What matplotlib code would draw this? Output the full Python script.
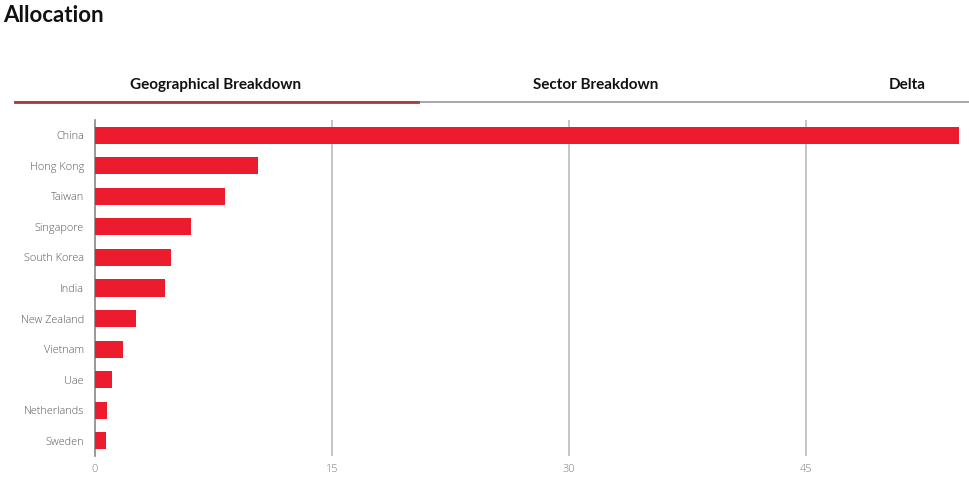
import matplotlib.pyplot as plt
from matplotlib.lines import Line2D

countries = ['China', 'Hong Kong', 'Taiwan', 'Singapore', 'South Korea', 'India',
             'New Zealand', 'Vietnam', 'Uae', 'Netherlands', 'Sweden']
weights = [54.7, 10.3, 8.2, 6.1, 4.8, 4.45, 2.6, 1.75, 1.1, 0.74, 0.7]
xticks = [0, 15, 30, 45]
tabs = ['Geographical Breakdown', 'Sector Breakdown', 'Delta']

W, H = 969, 480
fig = plt.figure(figsize=(W / 100, H / 100), dpi=100)
fig.patch.set_facecolor('white')

# axes placed in pixel terms
left, right, top, bottom = 95, 960, 120, 456
ax = fig.add_axes([left / W, 1 - bottom / H, (right - left) / W, (bottom - top) / H])

ypos = list(range(len(countries)))
ax.barh(ypos, weights, height=0.56, color='#ec1b2e', zorder=3)
ax.set_ylim(len(countries) - 0.5, -0.5)
ax.set_xlim(0, 54.75)

ax.set_yticks(ypos)
ax.set_yticklabels(countries, fontsize=7.8, color='#555555', family='Open Sans', weight='light')
ax.set_xticks(xticks)
ax.set_xticklabels([str(t) for t in xticks], fontsize=7.8, color='#777777',
                   family='Open Sans', weight='light')
ax.tick_params(axis='both', length=0)
ax.tick_params(axis='y', pad=8)
ax.tick_params(axis='x', pad=6)

for t in xticks[1:]:
    ax.axvline(t, color='#bbbbbb', lw=1.2, zorder=1)
for s in ['top', 'right', 'bottom']:
    ax.spines[s].set_visible(False)
ax.spines['left'].set_color('#888888')
ax.spines['left'].set_linewidth(1.2)

# title and tab header
fig.text(3 / W, 1 - 15 / H, 'Allocation', fontsize=16, family='Lato', weight='bold',
         va='center', ha='left', color='#111111')
tab_x = [216, 596, 907]
for name, x in zip(tabs, tab_x):
    fig.text(x / W, 1 - 85 / H, name, fontsize=11, family='Lato', weight='bold',
             ha='center', va='center', color='#111111')
fig.add_artist(Line2D([15 / W, 1], [1 - 101.5 / H] * 2, color='#999999', lw=1.2))
fig.add_artist(Line2D([15 / W, 418 / W], [1 - 101.5 / H] * 2, color='#a8393c', lw=2))

fig.savefig('out.png', dpi=100)
